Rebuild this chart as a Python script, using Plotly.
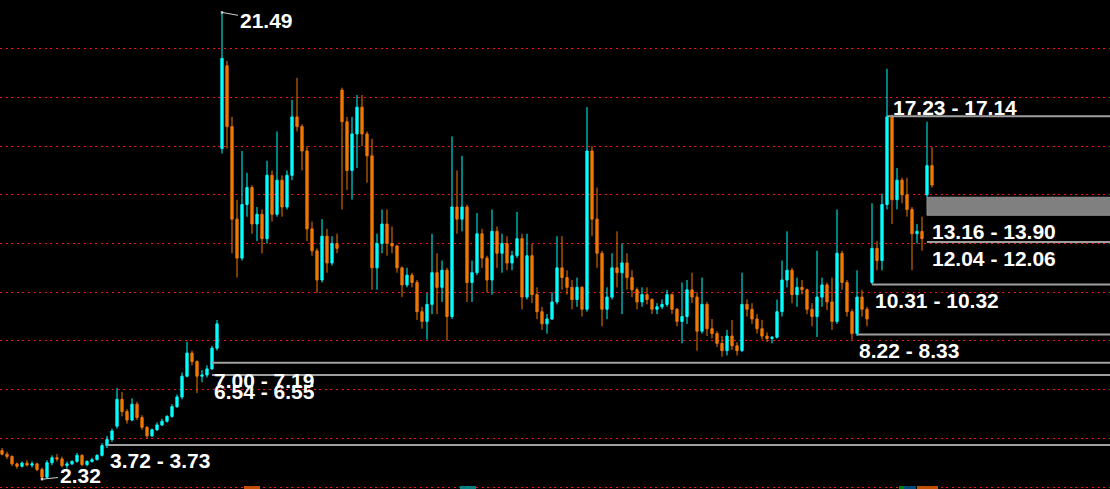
import plotly.graph_objects as go

# ---- data ----
open_ = [3.5, 3.35, 3.25, 2.95, 2.85, 2.98, 2.9, 2.95, 2.72, 2.4,
         3.0, 3.2, 3.15, 2.88, 2.95, 3.05, 3.3, 2.92, 3.05, 3.12,
         3.3, 3.7, 3.95, 4.5, 5.6, 5.1, 4.75, 5.4, 4.85, 4.45,
         4.1, 4.35, 4.55, 4.7, 4.9, 5.3, 5.7, 6.55, 7.5, 7.15,
         6.55, 6.6, 6.85, 7.7, 15.9, 19.3, 16.8, 13.0, 11.4, 13.6,
         14.3, 12.8, 13.2, 12.2, 14.8, 13.2, 14.6, 13.5, 14.8, 17.2,
         16.8, 15.8, 12.6, 11.7, 10.5, 12.3, 11.2, 12.0, 18.3, 17.0,
         15.0, 16.5, 17.6, 16.5, 15.6, 11.0, 12.0, 12.8, 12.0, 11.9,
         11.0, 10.3, 10.7, 10.4, 9.2, 8.8, 9.5, 10.8, 10.2, 10.9,
         9.0, 13.5, 13.0, 13.5, 10.4, 10.8, 12.4, 11.4, 10.5, 12.5,
         11.6, 12.0, 11.2, 11.5, 12.2, 9.8, 11.5, 9.9, 9.2, 8.7,
         8.9, 9.6, 11.0, 10.6, 10.2, 9.7, 10.2, 9.3, 15.8, 13.0,
         11.6, 9.3, 9.8, 11.0, 10.8, 11.2, 10.6, 10.1, 9.6, 9.9,
         9.7, 9.3, 9.4, 9.5, 9.9, 9.3, 8.8, 9.0, 10.1, 9.8,
         8.4, 9.5, 8.5, 8.3, 7.9, 7.6, 8.2, 7.8, 7.6, 9.5,
         9.3, 8.9, 8.5, 8.2, 8.1, 8.15, 9.2, 10.5, 10.9, 9.9,
         10.2, 10.1, 9.3, 9.0, 9.8, 10.3, 9.6, 8.8, 11.6, 10.4,
         9.2, 8.3, 9.8, 9.3, 10.4, 11.8, 11.3, 13.6, 17.2, 13.8,
         14.6, 14.0, 13.4, 12.4, 12.5, 14.0, 15.2]
high = [3.6, 3.45, 3.3, 3.0, 3.05, 3.1, 3.05, 3.0, 2.8, 3.1,
        3.3, 3.35, 3.25, 3.05, 3.1, 3.4, 3.35, 3.1, 3.2, 3.35,
        3.8, 4.1, 4.4, 6.07, 5.9, 5.2, 5.64, 5.5, 4.95, 4.5,
        4.4, 4.65, 4.8, 4.95, 5.4, 5.8, 6.7, 7.97, 7.6, 7.2,
        6.8, 7.0, 7.8, 8.86, 21.49, 19.5, 17.2, 13.8, 15.8, 14.9,
        14.4, 13.5, 13.4, 15.4, 15.0, 16.6, 14.8, 15.0, 17.9, 18.8,
        16.9, 16.0, 12.9, 11.8, 13.0, 12.6, 12.3, 12.4, 18.4, 17.2,
        17.2, 18.1, 18.1, 16.6, 16.3, 12.4, 13.4, 13.4, 12.7, 11.95,
        11.05, 11.0, 10.8, 10.5, 9.4, 9.96, 12.4, 11.6, 11.3, 11.0,
        16.4, 15.0, 15.6, 13.6, 11.3, 13.25, 12.6, 11.5, 13.4, 12.7,
        12.4, 12.3, 11.7, 13.3, 12.4, 12.4, 12.0, 10.2, 9.4, 9.1,
        10.0, 12.3, 12.3, 10.9, 10.5, 10.6, 10.25, 17.6, 16.0, 14.3,
        11.7, 10.2, 11.6, 12.5, 12.0, 11.6, 10.9, 10.2, 10.2, 10.2,
        9.75, 9.55, 9.7, 10.1, 9.95, 9.35, 10.4, 10.5, 10.8, 10.0,
        10.6, 9.6, 8.9, 8.4, 8.2, 8.45, 8.86, 7.95, 10.8, 9.7,
        9.55, 9.1, 8.86, 8.35, 8.2, 9.7, 11.3, 12.5, 11.0, 10.6,
        10.5, 10.15, 9.55, 11.7, 10.6, 10.4, 10.6, 13.4, 11.7, 10.5,
        9.3, 10.9, 10.1, 9.4, 13.65, 12.1, 14.05, 19.17, 17.3, 15.1,
        14.7, 14.7, 13.5, 12.8, 13.1, 17.0, 15.96]
low = [3.3, 3.15, 2.85, 2.75, 2.8, 2.85, 2.8, 2.65, 2.32, 2.35,
       2.9, 3.05, 2.8, 2.75, 2.9, 3.0, 2.85, 2.85, 3.0, 3.1,
       3.25, 3.6, 3.85, 4.4, 4.9, 4.6, 4.7, 4.75, 4.35, 4.0,
       4.05, 4.3, 4.5, 4.65, 4.85, 5.25, 5.6, 6.5, 7.0, 5.86,
       6.3, 6.5, 6.8, 7.6, 15.7, 15.9, 11.6, 10.6, 11.3, 13.1,
       12.4, 12.1, 11.6, 12.0, 12.9, 13.1, 13.1, 13.4, 14.6, 16.6,
       15.0, 12.1, 11.5, 9.97, 10.4, 10.8, 11.1, 11.6, 13.4, 14.2,
       13.8, 15.1, 16.0, 14.5, 10.1, 10.1, 11.6, 11.5, 11.6, 10.8,
       9.8, 10.2, 10.2, 8.86, 8.5, 8.05, 9.1, 9.1, 9.6, 8.0,
       8.9, 12.4, 12.5, 9.6, 9.6, 10.7, 11.0, 10.0, 9.9, 11.0,
       10.8, 10.9, 10.9, 11.4, 9.3, 9.7, 9.55, 8.9, 8.45, 8.3,
       8.86, 9.5, 10.1, 9.9, 9.3, 9.4, 9.0, 9.2, 12.3, 11.0,
       8.6, 8.9, 9.7, 10.2, 9.1, 10.1, 9.8, 9.3, 9.4, 9.5,
       9.1, 9.1, 9.3, 9.4, 9.1, 8.6, 7.9, 8.7, 9.55, 7.6,
       8.3, 8.2, 8.1, 7.75, 7.35, 7.4, 7.63, 7.4, 7.55, 9.0,
       8.7, 8.3, 8.05, 7.95, 7.9, 8.1, 9.0, 10.2, 9.55, 9.4,
       9.9, 9.1, 8.6, 8.16, 9.4, 9.27, 8.45, 8.7, 10.1, 9.0,
       8.05, 8.2, 9.0, 8.6, 10.32, 10.9, 10.9, 13.4, 12.8, 13.4,
       13.65, 13.1, 10.9, 12.0, 11.7, 13.9, 14.3]
close = [3.35, 3.25, 2.95, 2.85, 2.98, 2.9, 2.95, 2.72, 2.4, 3.0,
         3.2, 3.15, 2.88, 2.95, 3.05, 3.3, 2.92, 3.05, 3.12, 3.3,
         3.7, 3.95, 4.3, 5.6, 5.1, 4.75, 5.4, 4.85, 4.45, 4.1,
         4.35, 4.55, 4.7, 4.9, 5.3, 5.7, 6.55, 7.5, 7.15, 6.55,
         6.6, 6.85, 7.7, 8.7, 19.6, 16.8, 13.0, 11.4, 13.6, 14.3,
         12.8, 13.2, 12.2, 14.8, 13.2, 14.6, 13.5, 14.8, 17.2, 16.8,
         15.8, 12.6, 11.7, 10.5, 12.3, 11.2, 12.0, 11.8, 17.0, 15.0,
         16.5, 17.6, 16.5, 15.6, 11.0, 12.0, 12.8, 12.0, 11.9, 11.0,
         10.3, 10.7, 10.4, 9.2, 8.8, 9.5, 10.8, 10.2, 10.9, 9.0,
         13.5, 13.0, 13.5, 10.4, 10.8, 12.4, 11.4, 10.5, 12.5, 11.6,
         12.0, 11.2, 11.5, 12.2, 9.8, 11.5, 9.9, 9.2, 8.7, 8.9,
         9.6, 11.0, 10.6, 10.2, 9.7, 10.2, 9.3, 15.8, 13.0, 11.6,
         9.3, 9.8, 11.0, 10.8, 11.2, 10.6, 10.1, 9.6, 9.9, 9.7,
         9.3, 9.4, 9.5, 9.9, 9.3, 8.8, 9.0, 10.1, 9.8, 8.4,
         9.5, 8.5, 8.3, 7.9, 7.6, 8.2, 7.8, 7.6, 9.5, 9.3,
         8.9, 8.5, 8.2, 8.1, 8.15, 9.2, 10.5, 10.9, 9.9, 10.2,
         10.1, 9.3, 9.0, 9.8, 10.3, 9.6, 8.8, 11.6, 10.4, 9.2,
         8.3, 9.8, 9.3, 8.9, 11.8, 11.3, 13.6, 17.2, 13.8, 14.6,
         14.0, 13.4, 12.4, 12.5, 12.2, 15.2, 14.4]

# price-gap annotations
gap_start = [177, 174, 171, 42, 42, 21]
gap_level = [17.23, 10.32, 8.26, 7.10, 6.60, 3.73]
label_text = ["17.23 - 17.14", "13.16 - 13.90", "12.04 - 12.06", "10.31 - 10.32",
              "8.22 - 8.33", "7.00 - 7.19", "6.54 - 6.55", "3.72 - 3.73"]
label_bar = [177.8, 185.6, 185.6, 174.2, 171.0, 42.0, 42.0, 21.2]
label_y = [17.585, 12.49, 11.38, 9.66, 7.61, 6.39, 5.92, 3.09]
box_start, box_lo, box_hi = 185, 13.16, 13.90
line2_start, line2_level = 185, 12.06
grid_levels = [2, 4, 6, 8, 10, 12, 14, 16, 18, 20]
peak_bar, peak_val = 44, 21.49
trough_bar, trough_val = 8, 2.32

x = list(range(len(close)))

fig = go.Figure(go.Candlestick(
    x=x, open=open_, high=high, low=low, close=close,
    increasing=dict(line=dict(color="#00ffff", width=1), fillcolor="#00ffff"),
    decreasing=dict(line=dict(color="#f07800", width=1), fillcolor="#f07800"),
    whiskerwidth=0, hoverinfo="skip", showlegend=False,
))

XMAX = 221.6
line_col = "#a0a0a0"
shapes = []
for s, lv in zip(gap_start, gap_level):
    shapes.append(dict(type="line", xref="x", yref="y", x0=s, x1=XMAX + 2, y0=lv, y1=lv,
                       line=dict(color=line_col, width=2)))
shapes.append(dict(type="line", xref="x", yref="y", x0=line2_start, x1=XMAX + 2,
                   y0=line2_level, y1=line2_level, line=dict(color=line_col, width=2)))
shapes.append(dict(type="rect", xref="x", yref="y", x0=box_start, x1=XMAX + 2,
                   y0=box_lo, y1=box_hi, fillcolor="#808080",
                   line=dict(color="#909090", width=1)))
# tiny markers clipped at the bottom edge
for x0, x1, c in [(244, 260, "#c05000"), (460, 476, "#008080"),
                  (899, 904, "#008000"), (904, 916, "#004a80"), (917, 938, "#c05000")]:
    shapes.append(dict(type="rect", xref="paper", yref="paper", x0=x0 / 1110, x1=x1 / 1110,
                       y0=0, y1=3 / 489, fillcolor=c, line=dict(width=0)))

font = dict(family="Liberation Sans, Arial", size=21, color="white", weight="bold")
annotations = []
for t, bx, ly in zip(label_text, label_bar, label_y):
    annotations.append(dict(x=bx, y=ly, xref="x", yref="y", text=t, showarrow=False,
                            xanchor="left", yanchor="middle", font=font))
annotations.append(dict(x=peak_bar, y=peak_val, xref="x", yref="y", text=f"{peak_val:.2f}",
                        showarrow=True, arrowhead=7, arrowsize=0.6, arrowwidth=1,
                        arrowcolor="#d0d0d0", ax=44, ay=8, font=font))
annotations.append(dict(x=trough_bar, y=trough_val, xref="x", yref="y", text=f"{trough_val:.2f}",
                        showarrow=True, arrowhead=7, arrowsize=0.6, arrowwidth=1,
                        arrowcolor="#d0d0d0", ax=38, ay=-4, font=font))

fig.update_layout(
    width=1110, height=489,
    margin=dict(l=0, r=0, t=0, b=0),
    paper_bgcolor="black", plot_bgcolor="black",
    boxgap=0.35,
    xaxis=dict(range=[-0.4, XMAX], visible=False, rangeslider=dict(visible=False),
               fixedrange=True),
    yaxis=dict(range=[1.918, 22.0], tickvals=grid_levels, showticklabels=False,
               showgrid=True, gridcolor="#ff1010", gridwidth=1, griddash="2px,3.6px",
               zeroline=False, showline=False, fixedrange=True),
    shapes=shapes, annotations=annotations,
)

fig.write_html("out.html", config={"displayModeBar": False},
               post_script="document.body.style.margin='0';document.body.style.overflow='hidden';document.body.style.background='black';")
